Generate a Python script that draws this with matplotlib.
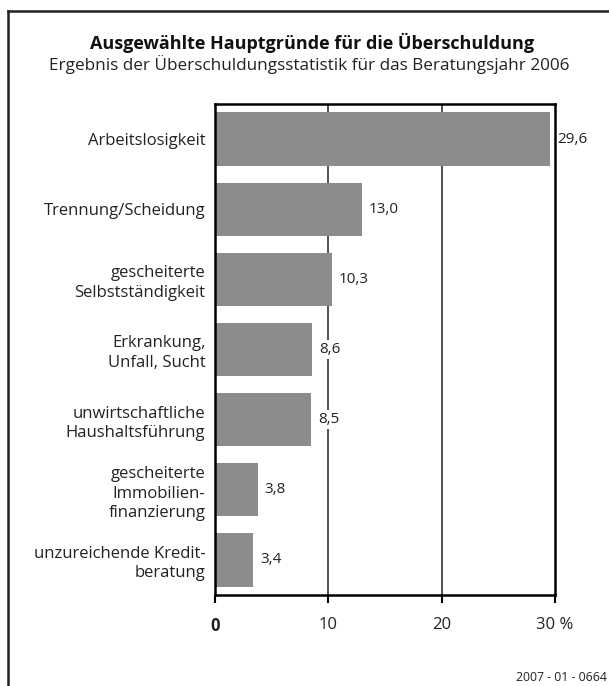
import matplotlib.pyplot as plt
from matplotlib.lines import Line2D

# Data
reasons = ['Arbeitslosigkeit', 'Trennung/Scheidung', 'gescheiterte\nSelbstständigkeit',
           'Erkrankung,\nUnfall, Sucht', 'unwirtschaftliche\nHaushaltsführung',
           'gescheiterte\nImmobilien-\nfinanzierung', 'unzureichende Kredit-\nberatung']
shares = [29.6, 13.0, 10.3, 8.6, 8.5, 3.8, 3.4]
xticks = [0, 10, 20, 30]
xticklabels = ['0', '10', '20', '30 %']

plt.rcParams['font.family'] = ['Open Sans', 'DejaVu Sans']

fig = plt.figure(figsize=(6.09, 6.86), dpi=100)
ax = fig.add_axes([0.353, 0.1327, 0.558, 0.7157])

y = list(range(len(reasons)))
ax.barh(y, shares, height=0.76, color='#8c8c8c', zorder=2)
ax.set_ylim(len(reasons) - 0.5, -0.5)
ax.set_xlim(0, 30)

# grid lines
for g in [10, 20]:
    ax.axvline(g, color='#333333', linewidth=1.2, zorder=1)

# value labels with white box so they cut the grid lines (kept under the spines)
for i, v in enumerate(shares):
    ax.text(v + 0.6, i, f'{v:.1f}'.replace('.', ','), va='center', ha='left',
            fontsize=11, color='#222222', zorder=2.2, clip_on=False,
            bbox=dict(facecolor='white', edgecolor='none', pad=1.5))

ax.set_yticks(y)
ax.set_yticklabels(reasons, fontsize=12, color='#222222', multialignment='right',
                   linespacing=1.3)
ax.tick_params(axis='y', length=0, pad=7)
ax.set_xticks(xticks)
ax.set_xticklabels(xticklabels, fontsize=12, color='#222222')
ax.get_xticklabels()[0].set_fontweight('bold')
ax.tick_params(axis='x', length=6, width=1.5, pad=10, direction='out')
for s in ax.spines.values():
    s.set_linewidth(1.8)

fig.text(0.512, 0.9286, 'Ausgewählte Hauptgründe für die Überschuldung', ha='center',
         va='baseline', fontsize=13, fontweight='bold', color='#111111')
fig.text(0.508, 0.898, 'Ergebnis der Überschuldungsstatistik für das Beratungsjahr 2006',
         ha='center', va='baseline', fontsize=12.3, color='#222222')
fig.text(0.997, 0.013, '2007 - 01 - 0664', ha='right', va='center', fontsize=8.8,
         color='#222222')

# outer frame (left and top visible)
fig.add_artist(Line2D([0.0131, 0.0131], [0, 0.984], transform=fig.transFigure,
                      color='#222222', linewidth=1.8))
fig.add_artist(Line2D([0.0131, 1.0], [0.984, 0.984], transform=fig.transFigure,
                      color='#222222', linewidth=1.8))

fig.savefig('out.png', dpi=100)
